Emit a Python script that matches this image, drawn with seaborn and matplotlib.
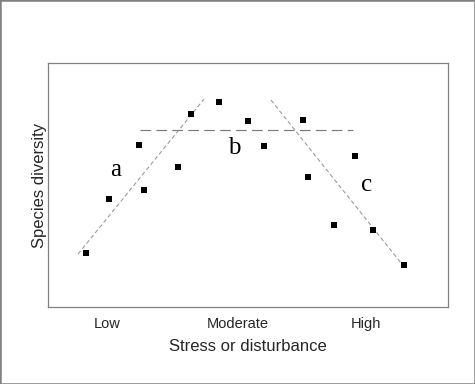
import matplotlib
matplotlib.use("Agg")
import matplotlib.pyplot as plt
import seaborn as sns
import pandas as pd
from matplotlib.patches import Rectangle

# data (arbitrary units: x 0-10, y 0-10)
stress = [0.95, 1.525, 2.275, 2.4, 3.25, 3.575, 4.275, 5.0, 5.4, 6.375, 6.5, 7.15, 7.675, 8.125, 8.9]
diversity = [2.21, 4.43, 6.64, 4.80, 5.74, 7.91, 8.40, 7.62, 6.60, 7.66, 5.33, 3.36, 6.19, 3.16, 1.72]

line_a_x = [0.75, 3.9]
line_a_y = [2.17, 8.52]
line_b_x = [2.3, 7.625]
line_b_y = [7.25, 7.25]
line_c_x = [5.575, 8.9]
line_c_y = [8.48, 1.65]

segment_labels = ["a", "b", "c"]
label_x = [1.7, 4.65, 7.97]
label_y = [5.6, 6.5, 5.0]

tick_pos = [1.47, 4.74, 7.95]
tick_labels = ["Low", "Moderate", "High"]

sns.set_style("white")
plt.rcParams["font.family"] = ["Liberation Sans", "DejaVu Sans"]

fig = plt.figure(figsize=(4.75, 3.84), dpi=100)
ax = fig.add_axes([48/475, 77/384, 400/475, 244/384])

df = pd.DataFrame({"stress": stress, "diversity": diversity})
sns.scatterplot(data=df, x="stress", y="diversity", marker="s", s=24,
                color="black", linewidth=0, ax=ax, zorder=3)

sns.lineplot(x=line_a_x, y=line_a_y, ax=ax, color="#969696", linewidth=0.75,
             linestyle=(0, (4, 2.5)), sort=False)
sns.lineplot(x=line_c_x, y=line_c_y, ax=ax, color="#969696", linewidth=0.75,
             linestyle=(0, (4, 2.5)), sort=False)
sns.lineplot(x=line_b_x, y=line_b_y, ax=ax, color="#7a7a7a", linewidth=0.85,
             linestyle=(0, (9, 4.5)), sort=False)

for t, xx, yy in zip(segment_labels, label_x, label_y):
    ax.text(xx, yy, t, ha="center", va="center", fontsize=18,
            family=["Liberation Serif", "DejaVu Serif"], color="black")

ax.set_xlim(0, 10)
ax.set_ylim(0, 10)
ax.set_xticks(tick_pos)
ax.set_xticklabels(tick_labels, fontsize=10.5)
ax.set_yticks([])
ax.tick_params(axis="x", length=0, pad=7)
ax.set_xlabel("Stress or disturbance", fontsize=12, labelpad=6)
ax.set_ylabel("Species diversity", fontsize=12, labelpad=1)

for sp in ax.spines.values():
    sp.set_visible(True)
    sp.set_color("#808080")
    sp.set_linewidth(0.9)

fig.patches.append(Rectangle((0, 0), 1, 1, transform=fig.transFigure,
                             fill=False, edgecolor="#808080", linewidth=1.8))

fig.savefig("out.png", dpi=100)
